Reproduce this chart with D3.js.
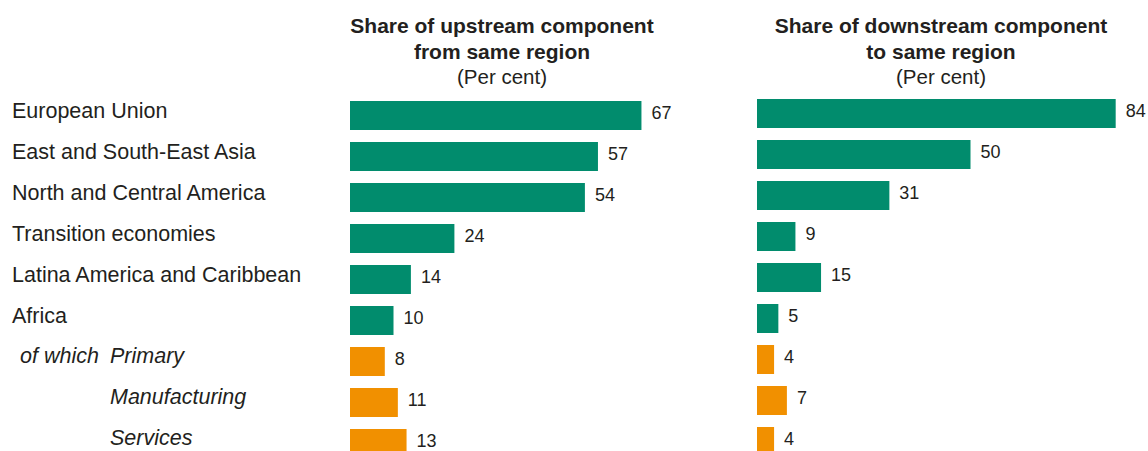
<!DOCTYPE html>
<html>
<head>
<meta charset="utf-8">
<script src="https://cdn.jsdelivr.net/npm/d3@7"></script>
<style>
  html, body { margin: 0; padding: 0; background: #fff; }
  svg { display: block; font-family: "Liberation Sans", Arial, Helvetica, sans-serif; }
</style>
</head>
<body>
<svg id="chart" width="1148" height="451"></svg>
<script>
// Regions and their breakdown (the last three rows are Africa by sector)
const categories = [
  "European Union",
  "East and South-East Asia",
  "North and Central America",
  "Transition economies",
  "Latina America and Caribbean",
  "Africa",
  "Primary",
  "Manufacturing",
  "Services"
];
const labelPrefix = ["", "", "", "", "", "", "of which", "", ""];
const isSector = [false, false, false, false, false, false, true, true, true];

// Share of upstream component from same region (per cent)
const upstream = [67, 57, 54, 24, 14, 10, 8, 11, 13];
// Share of downstream component to same region (per cent)
const downstream = [84, 50, 31, 9, 15, 5, 4, 7, 4];

const panelTitles = [
  ["Share of upstream component", "from same region", "(Per cent)"],
  ["Share of downstream component", "to same region", "(Per cent)"]
];

const GREEN = "#018c6d";
const ORANGE = "#f19000";
const TEXT = "#231f20";

const svg = d3.select("#chart");
const rows = categories.map((c, i) => ({ cat: c, prefix: labelPrefix[i], sector: isSector[i], up: upstream[i], down: downstream[i] }));

// Row labels on the left
const labelY = d3.scalePoint().domain(categories).range([118, 118 + 8 * 40.9]);
const labels = svg.append("g").attr("font-size", 21.5).attr("fill", TEXT);
rows.forEach(d => {
  if (!d.sector) {
    labels.append("text").attr("x", 12).attr("y", labelY(d.cat)).text(d.cat);
  } else {
    if (d.prefix) {
      labels.append("text").attr("x", 20).attr("y", labelY(d.cat))
        .attr("font-style", "italic").text(d.prefix);
    }
    labels.append("text").attr("x", 110).attr("y", labelY(d.cat))
      .attr("font-style", "italic").text(d.cat);
  }
});

// Two bar panels sharing the same row order
const panels = [
  { key: "up",   x0: 350, pxPer100: 435, yTop: 95, titleX: 502 },
  { key: "down", x0: 757, pxPer100: 427, yTop: 93, titleX: 941 }
];

panels.forEach((p, pi) => {
  const x = d3.scaleLinear().domain([0, 100]).range([p.x0, p.x0 + p.pxPer100]);
  const pad = 12 / 41;
  const y = d3.scaleBand().domain(categories)
    .range([p.yTop, p.yTop + 9 * 41])
    .paddingInner(pad).paddingOuter(pad / 2);

  const g = svg.append("g");

  // panel heading
  const t = g.append("g").attr("fill", TEXT).attr("text-anchor", "middle");
  t.append("text").attr("x", p.titleX).attr("y", 33).attr("font-size", 21).attr("font-weight", "bold").text(panelTitles[pi][0]);
  t.append("text").attr("x", p.titleX).attr("y", 58.5).attr("font-size", 21).attr("font-weight", "bold").text(panelTitles[pi][1]);
  t.append("text").attr("x", p.titleX).attr("y", 84).attr("font-size", 20.5).text(panelTitles[pi][2]);

  g.selectAll("rect").data(rows).join("rect")
    .attr("x", x(0))
    .attr("y", d => y(d.cat))
    .attr("width", d => x(d[p.key]) - x(0))
    .attr("height", y.bandwidth())
    .attr("fill", d => d.sector ? ORANGE : GREEN);

  g.selectAll("text.val").data(rows).join("text")
    .attr("class", "val")
    .attr("x", d => x(d[p.key]) + 10)
    .attr("y", d => y(d.cat) + y.bandwidth() / 2)
    .attr("dy", "0.2em")
    .attr("font-size", 18)
    .attr("fill", TEXT)
    .text(d => d[p.key]);
});
</script>
</body>
</html>
